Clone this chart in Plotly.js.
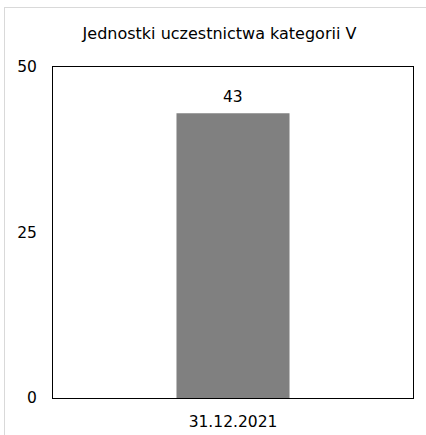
<!DOCTYPE html>
<html>
<head>
<meta charset="utf-8">
<script src="https://cdn.plot.ly/plotly-3.0.1.min.js"></script>
<style>
html,body{margin:0;padding:0;background:#fff;overflow:hidden;}
#chart{width:426px;height:435px;}
#frame{position:absolute;left:4px;top:7px;width:430px;height:440px;border:1px solid #d9d9d9;pointer-events:none;box-sizing:border-box;}
</style>
</head>
<body>
<div id="chart"></div>
<div id="frame"></div>
<script>
const categories = ["31.12.2021"];
const values = [43];
const titleText = "Jednostki uczestnictwa kategorii V";
const yTicks = [0, 25, 50];

const font = {family: "DejaVu Sans, Verdana, sans-serif", size: 15.5, color: "#000"};

Plotly.newPlot("chart", [{
  type: "bar",
  x: categories,
  y: values,
  width: 0.314,
  marker: {color: "#808080", line: {width: 0}},
  hoverinfo: "none"
}], {
  width: 426, height: 435,
  margin: {l: 53, r: 13, t: 67, b: 37, pad: 0},
  paper_bgcolor: "#fff",
  plot_bgcolor: "#fff",
  font: font,
  title: {text: titleText, font: {family: font.family, size: 16, color: "#000"}, x: 219.5/426, xanchor: "center", y: 1 - 33/435, yanchor: "middle"},
  xaxis: {
    type: "category",
    range: [-0.5, 0.5],
    showgrid: false, zeroline: false,
    showline: true, linecolor: "#000", linewidth: 1, mirror: true,
    ticks: "", tickfont: font, ticklabelstandoff: 9
  },
  yaxis: {
    range: [0, 50],
    tickvals: yTicks,
    showgrid: false, zeroline: false,
    showline: true, linecolor: "#000", linewidth: 1, mirror: true,
    ticks: "", tickfont: font, ticklabelstandoff: 12
  },
  annotations: values.map((v, i) => ({
    x: categories[i], y: v, xref: "x", yref: "y",
    text: String(v), showarrow: false,
    yanchor: "bottom", yshift: 5,
    font: font
  })),
  showlegend: false
}, {staticPlot: true, displayModeBar: false});
</script>
</body>
</html>
